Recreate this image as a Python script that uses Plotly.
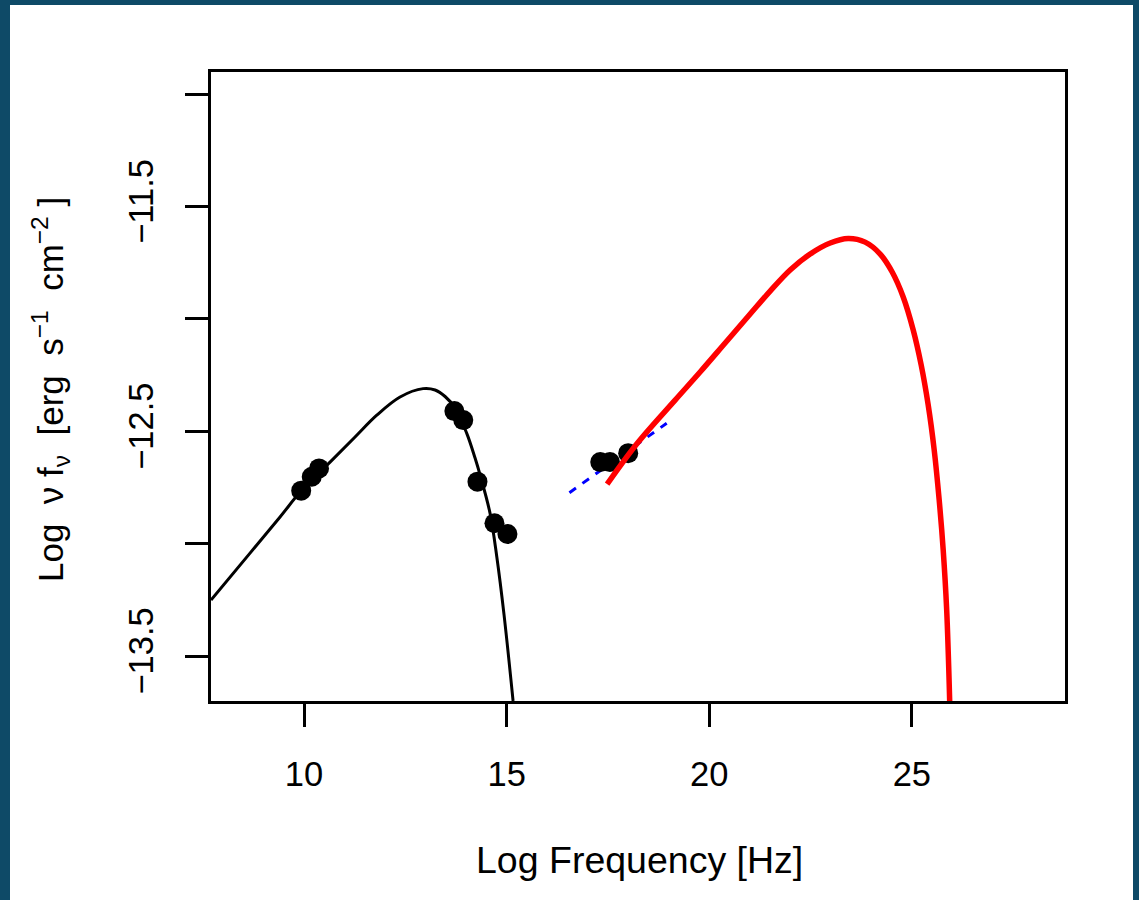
import plotly.graph_objects as go

# Observed SED points (log nu, log nu f_nu)
sed_x = [9.93, 10.19, 10.37, 13.71, 13.93, 14.28, 14.70, 15.02]
sed_y = [-12.764, -12.702, -12.665, -12.410, -12.450, -12.724, -12.909, -12.957]

xray_x = [17.31, 17.55, 18.00]
xray_y = [-12.637, -12.637, -12.597]

# Synchrotron model curve (black)
sync_x = [7.704, 8.667, 9.408, 9.926, 10.642, 11.259, 11.802, 12.370, 12.938, 13.234, 13.481,
          13.728, 14.016, 14.221, 14.345, 14.591, 14.757, 14.937, 15.159]
sync_y = [-13.251, -13.042, -12.881, -12.766, -12.637, -12.525, -12.427, -12.347, -12.310, -12.316, -12.345,
          -12.396, -12.509, -12.619, -12.694, -12.865, -13.058, -13.318, -13.700]

# Inverse Compton model curve (red)
ic_x = [17.480, 18.220, 19.158, 19.775, 20.393, 21.010, 21.503, 21.997, 22.491, 22.985, 23.429, 23.848,
        24.219, 24.515, 24.787, 25.034, 25.231, 25.404, 25.552, 25.675, 25.774, 25.860, 25.934]
ic_y = [-12.735, -12.554, -12.361, -12.236, -12.107, -11.978, -11.876, -11.782, -11.711, -11.662, -11.642, -11.658,
        -11.711, -11.791, -11.902, -12.049, -12.205, -12.383, -12.583, -12.806, -13.028, -13.295, -13.700]

# X-ray power law (blue dashed)
pl_x = [16.55, 18.95]
pl_y = [-12.773, -12.464]

x_ticks = [10, 15, 20, 25]
y_label_ticks = [-13.5, -12.5, -11.5]
y_label_text = ["\u221213.5", "\u221212.5", "\u221211.5"]
y_unlabelled_ticks = [-13.0, -12.0, -11.0]

FONT = "Liberation Sans, Arial, Helvetica, sans-serif"

fig = go.Figure()
fig.add_trace(go.Scatter(x=sync_x, y=sync_y, mode="lines", line=dict(color="black", width=3, shape="spline")))
fig.add_trace(go.Scatter(x=pl_x, y=pl_y, mode="lines", line=dict(color="#0000ff", width=3, dash="8px,8px")))
fig.add_trace(go.Scatter(x=sed_x, y=sed_y, mode="markers", marker=dict(color="black", size=20)))
fig.add_trace(go.Scatter(x=xray_x, y=xray_y, mode="markers", marker=dict(color="black", size=20)))
fig.add_trace(go.Scatter(x=ic_x, y=ic_y, mode="lines", line=dict(color="#ff0000", width=5.5, shape="spline")))

L, R, T, B = 211, 74, 72, 199
W, H = 1139, 900
pw, ph = W - L - R, H - T - B

def px(xp):
    return (xp - L) / pw

def py(yp):
    return (H - B - yp) / ph

fig.update_layout(
    width=W, height=H,
    margin=dict(l=L, r=R, t=T, b=B),
    paper_bgcolor="#0e4a67",
    plot_bgcolor="white",
    showlegend=False,
    font=dict(family=FONT, size=34, color="black"),
    shapes=[dict(type="rect", xref="paper", yref="paper", x0=px(10), x1=px(1133), y0=py(905), y1=py(5),
                 fillcolor="white", line=dict(width=0), layer="below")],
    annotations=[
        dict(text="Log Frequency [Hz]", xref="paper", yref="paper", x=px(639), y=py(860),
             showarrow=False, font=dict(size=37.5, family=FONT, color="black"), xanchor="center", yanchor="middle"),
        dict(text="Log  \u03bd f<sub>\u03bd</sub>  [erg  s<sup>\u22121</sup>  cm<sup>\u22122</sup> ]", xref="paper", yref="paper",
             x=px(50), y=py(390), textangle=-90, showarrow=False,
             font=dict(size=35, family=FONT, color="black"), xanchor="center", yanchor="middle"),
    ],
)
fig.update_xaxes(range=[7.704, 28.78], tickvals=x_ticks, ticktext=[str(v) for v in x_ticks],
                 showgrid=False, zeroline=False, showline=True, mirror=True, linecolor="black", linewidth=2.5,
                 ticks="outside", ticklen=23, tickwidth=2.5, tickcolor="black", ticklabelstandoff=18,
                 tickfont=dict(size=34.5, family=FONT, color="black"))
fig.update_yaxes(range=[-13.70, -10.901], tickvals=y_label_ticks, ticktext=y_label_text,
                 showgrid=False, zeroline=False, showline=True, mirror=True, linecolor="black", linewidth=2.5,
                 ticks="outside", ticklen=23, tickwidth=2.5, tickcolor="black", tickangle=-90, ticklabelstandoff=18,
                 tickfont=dict(size=34.5, family=FONT, color="black"),
                 minor=dict(tickvals=y_unlabelled_ticks, ticks="outside", ticklen=23, tickwidth=2.5,
                            tickcolor="black", showgrid=False))

fig.write_html("out.html")
